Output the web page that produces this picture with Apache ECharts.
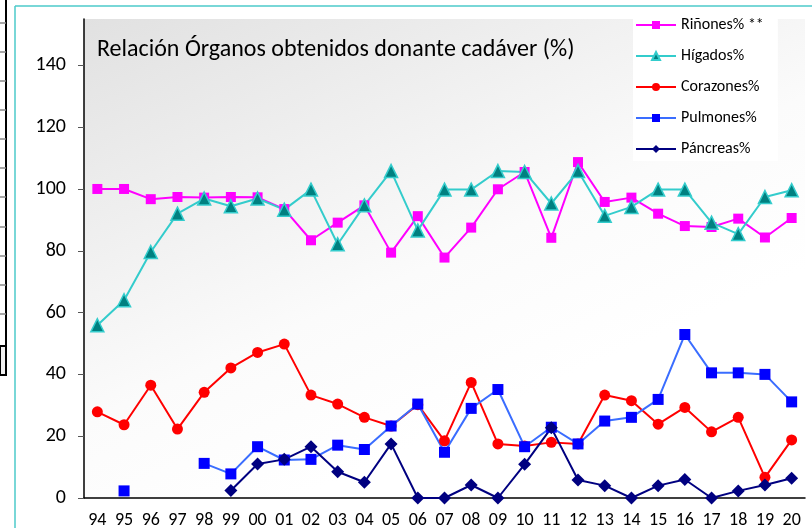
<html>
<head>
    <meta charset="utf-8" />
    <script src="https://cdn.jsdelivr.net/npm/echarts@6/dist/echarts.min.js"></script>
    <style>
        body { margin: 0; background: #fff; }
    </style>
</head>
<body>
    <div id="main" style="width: 812px;height:531px;"></div>
    <script>
        // años (eje x)
        var years = ['94','95','96','97','98','99','00','01','02','03','04','05','06','07','08','09','10','11','12','13','14','15','16','17','18','19','20']
        var yTicks = [0, 20, 40, 60, 80, 100, 120, 140]

        var rinones = [100, 100, 96.7, 97.4, 97.2, 97.4, 97.3, 93.5, 83.4, 89.1, 94.7, 79.4, 91.2, 77.8, 87.5, 99.9, 105.5, 84.2, 108.7, 95.8, 97.2, 92.0, 88.0, 87.7, 90.4, 84.3, 90.6]
        var higados = [55.9, 64.0, 79.6, 92.0, 96.9, 94.4, 96.9, 93.3, 99.8, 82.1, 94.7, 105.8, 86.6, 99.8, 99.8, 105.8, 105.5, 95.3, 105.8, 91.3, 94.2, 99.8, 99.8, 89.1, 85.4, 97.4, 99.6]
        var corazones = [27.9, 23.7, 36.5, 22.3, 34.2, 42.1, 47.1, 49.8, 33.3, 30.4, 26.1, 23.3, 30.2, 18.5, 37.4, 17.5, 16.8, 18.0, 17.5, 33.3, 31.5, 23.9, 29.3, 21.4, 26.1, 6.7, 18.8]
        var pulmones = [null, 2.3, null, null, 11.2, 7.8, 16.6, 12.3, 12.5, 17.1, 15.7, 23.3, 30.4, 14.8, 29.0, 35.1, 16.6, 22.9, 17.5, 24.9, 26.1, 31.9, 52.9, 40.5, 40.5, 40.0, 31.1]
        var pancreas = [null, null, null, null, null, 2.4, 11.0, 12.5, 16.6, 8.5, 5.1, 17.5, 0, 0, 4.2, 0, 10.9, 22.7, 5.8, 4.0, 0, 4.0, 6.0, 0, 2.3, 4.2, 6.4]

        var font = 'Carlito, "Liberation Sans", sans-serif'

        // marco de la izquierda (restos de otra tabla)
        var deco = [
            { type: 'line', shape: { x1: 6, y1: 0, x2: 6, y2: 376 }, style: { stroke: '#000', lineWidth: 2 } },
            { type: 'rect', shape: { x: 0, y: 346, width: 6, height: 29 }, style: { fill: '#f0f0f0', stroke: '#000', lineWidth: 2 } },
            { type: 'line', shape: { x1: 15, y1: 6, x2: 812, y2: 6 }, style: { stroke: '#4dcaca', lineWidth: 1.5 } },
            { type: 'line', shape: { x1: 15, y1: 6, x2: 15, y2: 528 }, style: { stroke: '#4dcaca', lineWidth: 1.5 } }
        ]
        var rowLines = [23, 52, 81, 110, 139, 168, 197, 227, 256, 285, 314]
        rowLines.forEach(function (y) {
            deco.push({ type: 'line', shape: { x1: 0, y1: y, x2: 6, y2: y }, style: { stroke: '#888', lineWidth: 1.5 } })
        })

        var option = {
            animation: false,
            title: {
                text: 'Relación Órganos obtenidos donante cadáver (%)',
                left: 92,
                top: 33,
                textStyle: { fontFamily: font, fontSize: 24, fontWeight: 'normal', color: '#000' }
            },
            legend: {
                orient: 'vertical',
                left: 633,
                top: 13,
                itemWidth: 40,
                itemHeight: 10,
                itemGap: 15,
                backgroundColor: '#fff',
                padding: [4, 14, 4, 2],
                textStyle: { fontFamily: font, fontSize: 16, color: '#000' },
                data: ['Riñones% **', 'Hígados%', 'Corazones%', 'Pulmones%', 'Páncreas%']
            },
            grid: {
                left: 84,
                right: 7,
                top: 19,
                bottom: 33,
                show: true,
                borderWidth: 0,
                backgroundColor: new echarts.graphic.LinearGradient(0, 0, 0.3, 1, [
                    { offset: 0, color: '#e1e1e1' },
                    { offset: 0.7, color: '#fbfbfb' },
                    { offset: 1, color: '#ffffff' }
                ])
            },
            xAxis: {
                type: 'category',
                data: years,
                boundaryGap: true,
                axisLine: { lineStyle: { color: '#000', width: 1.5 } },
                axisTick: { length: 6, lineStyle: { color: '#555' } },
                axisLabel: { fontFamily: font, fontSize: 18, color: '#000', margin: 13, interval: 0 }
            },
            yAxis: {
                type: 'value',
                min: 0,
                max: 155,
                interval: 20,
                splitLine: { show: false },
                axisLine: { show: true, lineStyle: { color: '#000', width: 1.5 } },
                axisTick: { show: true, length: 6, customValues: yTicks, lineStyle: { color: '#555' } },
                axisLabel: { fontFamily: font, fontSize: 20, color: '#000', margin: 18, customValues: yTicks }
            },
            graphic: deco,
            series: [
                {
                    name: 'Riñones% **', type: 'line', data: rinones,
                    symbol: 'rect', symbolSize: 10,
                    itemStyle: { color: '#ff00ff' },
                    lineStyle: { color: '#ff00ff', width: 2 }
                },
                {
                    name: 'Hígados%', type: 'line', data: higados,
                    symbol: 'triangle', symbolSize: 13,
                    itemStyle: { color: '#008080', borderColor: '#33cccc', borderWidth: 1.5 },
                    lineStyle: { color: '#33cccc', width: 2 }
                },
                {
                    name: 'Corazones%', type: 'line', data: corazones,
                    symbol: 'circle', symbolSize: 11,
                    itemStyle: { color: '#ff0000' },
                    lineStyle: { color: '#ff0000', width: 2 }
                },
                {
                    name: 'Pulmones%', type: 'line', data: pulmones,
                    symbol: 'rect', symbolSize: 11,
                    connectNulls: false,
                    itemStyle: { color: '#0000ff' },
                    lineStyle: { color: '#3a6dff', width: 2 }
                },
                {
                    name: 'Páncreas%', type: 'line', data: pancreas,
                    symbol: 'diamond', symbolSize: 13,
                    itemStyle: { color: '#000080' },
                    lineStyle: { color: '#000080', width: 2 }
                }
            ]
        };

        var chart = echarts.init(document.getElementById('main'))
        chart.setOption(option);
    </script>
</body>
</html>
